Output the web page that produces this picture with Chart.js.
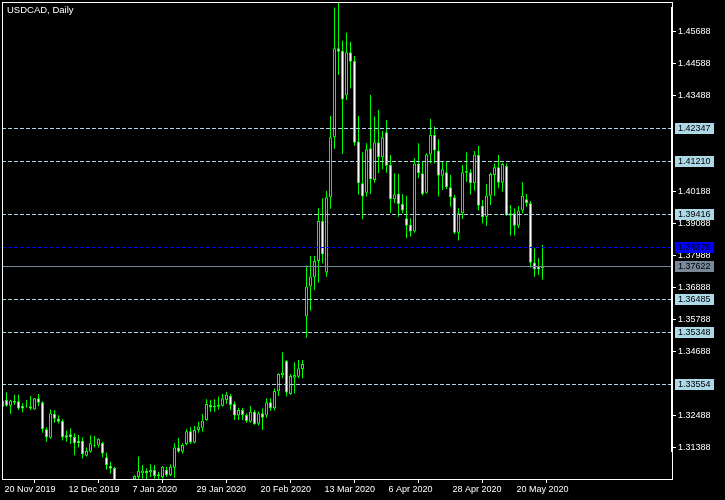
<!DOCTYPE html>
<html lang="en">
<head>
    <meta charset="UTF-8">
    <title>USDCAD, Daily</title>
    <script src="https://cdn.jsdelivr.net/npm/chart.js"></script>
    <style>
        html, body { margin: 0; padding: 0; background: #000; }
        #wrap { width: 725px; height: 500px; }
    </style>
</head>
<body>
<div id="wrap"><canvas id="candles" width="725" height="500"></canvas></div>

<script>
    // daily candles, 20 Nov 2019 .. 29 May 2020 (one entry per bar)
    const opens = [
        1.3278, 1.3301, 1.3282, 1.3298, 1.3297, 1.3281, 1.3278, 1.3280, 1.3269, 1.3307,
        1.3294, 1.3201, 1.3172, 1.3253, 1.3238, 1.3229, 1.3180, 1.3184, 1.3174, 1.3161,
        1.3161, 1.3110, 1.3124, 1.3144, 1.3145, 1.3154, 1.3105, 1.3075, 1.3068, 1.2990,
        1.2965, 1.2990, 1.2985, 1.3030, 1.3037, 1.3050, 1.3058, 1.3053, 1.3061, 1.3040,
        1.3037, 1.3061, 1.3044, 1.3069, 1.3138, 1.3124, 1.3150, 1.3194, 1.3155, 1.3198,
        1.3206, 1.3233, 1.3284, 1.3282, 1.3278, 1.3282, 1.3301, 1.3315, 1.3288, 1.3248,
        1.3267, 1.3250, 1.3227, 1.3261, 1.3220, 1.3256, 1.3248, 1.3294, 1.3273, 1.3331,
        1.3387, 1.3435, 1.3322, 1.3378, 1.3381, 1.3408, 1.3588, 1.3691, 1.3723, 1.3779,
        1.3916, 1.3739, 1.3998, 1.4204, 1.4510, 1.4501, 1.4347, 1.4496, 1.4466, 1.4189,
        1.4046, 1.4013, 1.4166, 1.4057, 1.4187, 1.4135, 1.4221, 1.4109, 1.3991, 1.4011,
        1.3975, 1.3926, 1.3903, 1.3880, 1.4114, 1.4080, 1.4013, 1.4145, 1.4212, 1.4158,
        1.4072, 1.4084, 1.4032, 1.3998, 1.3876, 1.3943, 1.4088, 1.4084, 1.4046, 1.4143,
        1.3969, 1.3931, 1.4003, 1.4074, 1.4101, 1.4048, 1.4105, 1.3943, 1.3943, 1.3900,
        1.3952, 1.3991, 1.3977, 1.3774, 1.3762, 1.3755
    ];
    const highs = [
        1.3304, 1.3327, 1.3301, 1.3319, 1.3319, 1.3290, 1.3301, 1.3315, 1.3308, 1.3322,
        1.3297, 1.3208, 1.3269, 1.3267, 1.3249, 1.3235, 1.3196, 1.3204, 1.3187, 1.3181,
        1.3173, 1.3138, 1.3180, 1.3178, 1.3170, 1.3158, 1.3120, 1.3089, 1.3072, 1.3000,
        1.2995, 1.3010, 1.3028, 1.3044, 1.3107, 1.3078, 1.3067, 1.3081, 1.3078, 1.3055,
        1.3075, 1.3072, 1.3081, 1.3153, 1.3172, 1.3153, 1.3201, 1.3208, 1.3212, 1.3227,
        1.3253, 1.3304, 1.3301, 1.3304, 1.3313, 1.3322, 1.3330, 1.3322, 1.3296, 1.3275,
        1.3274, 1.3256, 1.3281, 1.3267, 1.3262, 1.3273, 1.3307, 1.3307, 1.3341, 1.3393,
        1.3465, 1.3439, 1.3391, 1.3431, 1.3439, 1.3439, 1.3763, 1.3796, 1.3796, 1.3960,
        1.3994, 1.4019, 1.4277, 1.4650, 1.4666, 1.4535, 1.4563, 1.4532, 1.4483, 1.4277,
        1.4152, 1.4183, 1.4349, 1.4275, 1.4298, 1.4225, 1.4263, 1.4143, 1.4080, 1.4078,
        1.4008, 1.4002, 1.3926, 1.4132, 1.4183, 1.4120, 1.4149, 1.4267, 1.4240, 1.4197,
        1.4120, 1.4120, 1.4074, 1.4006, 1.3960, 1.4109, 1.4152, 1.4094, 1.4157, 1.4174,
        1.3988, 1.4043, 1.4082, 1.4114, 1.4143, 1.4116, 1.4114, 1.3971, 1.3960, 1.3968,
        1.4049, 1.4009, 1.3985, 1.3822, 1.3788, 1.3834
    ];
    const lows = [
        1.3265, 1.3278, 1.3253, 1.3284, 1.3267, 1.3259, 1.3275, 1.3267, 1.3268, 1.3281,
        1.3189, 1.3158, 1.3168, 1.3223, 1.3221, 1.3162, 1.3158, 1.3150, 1.3112, 1.3138,
        1.3100, 1.3107, 1.3120, 1.3138, 1.3138, 1.3105, 1.3063, 1.3049, 1.2980, 1.2955,
        1.2950, 1.2960, 1.2955, 1.3020, 1.3027, 1.3032, 1.3030, 1.3037, 1.3032, 1.3030,
        1.3032, 1.3037, 1.3040, 1.3034, 1.3121, 1.3118, 1.3146, 1.3150, 1.3152, 1.3189,
        1.3192, 1.3230, 1.3261, 1.3261, 1.3269, 1.3278, 1.3288, 1.3267, 1.3233, 1.3233,
        1.3233, 1.3223, 1.3223, 1.3216, 1.3214, 1.3198, 1.3240, 1.3264, 1.3265, 1.3315,
        1.3376, 1.3313, 1.3319, 1.3324, 1.3376, 1.3376, 1.3515, 1.3608, 1.3679, 1.3704,
        1.3771, 1.3725, 1.3958, 1.4164, 1.4418, 1.4146, 1.4332, 1.4372, 1.4175, 1.4006,
        1.3922, 1.4000, 1.4009, 1.4048, 1.4080, 1.4094, 1.4082, 1.3945, 1.3977, 1.3931,
        1.3943, 1.3857, 1.3862, 1.3876, 1.4063, 1.4003, 1.4011, 1.4114, 1.4114, 1.4000,
        1.4023, 1.4026, 1.3965, 1.3872, 1.3849, 1.3923, 1.4051, 1.4006, 1.4020, 1.3952,
        1.3908, 1.3899, 1.3971, 1.4002, 1.4029, 1.4017, 1.3933, 1.3866, 1.3866, 1.3891,
        1.3943, 1.3965, 1.3756, 1.3725, 1.3731, 1.3714
    ];
    const closes = [
        1.3299, 1.3282, 1.3300, 1.3292, 1.3272, 1.3272, 1.3280, 1.3272, 1.3307, 1.3292,
        1.3201, 1.3173, 1.3256, 1.3237, 1.3227, 1.3173, 1.3172, 1.3173, 1.3153, 1.3153,
        1.3115, 1.3126, 1.3153, 1.3147, 1.3168, 1.3118, 1.3078, 1.3065, 1.2990, 1.2965,
        1.2990, 1.2985, 1.3025, 1.3041, 1.3058, 1.3059, 1.3050, 1.3061, 1.3040, 1.3046,
        1.3072, 1.3044, 1.3072, 1.3138, 1.3124, 1.3147, 1.3194, 1.3155, 1.3198, 1.3210,
        1.3230, 1.3288, 1.3276, 1.3276, 1.3284, 1.3307, 1.3319, 1.3284, 1.3248, 1.3267,
        1.3250, 1.3229, 1.3261, 1.3218, 1.3256, 1.3240, 1.3294, 1.3274, 1.3332, 1.3391,
        1.3396, 1.3327, 1.3384, 1.3387, 1.3410, 1.3425, 1.3691, 1.3726, 1.3779, 1.3916,
        1.3802, 1.3998, 1.4204, 1.4510, 1.4498, 1.4334, 1.4496, 1.4463, 1.4185, 1.4046,
        1.4000, 1.4163, 1.4060, 1.4187, 1.4135, 1.4204, 1.4106, 1.3991, 1.4008, 1.3975,
        1.3952, 1.3900, 1.3880, 1.4114, 1.4080, 1.4008, 1.4145, 1.4212, 1.4158, 1.4072,
        1.4094, 1.4032, 1.3998, 1.3876, 1.3943, 1.4084, 1.4082, 1.4046, 1.4145, 1.3969,
        1.3929, 1.4003, 1.4078, 1.4101, 1.4048, 1.4112, 1.3937, 1.3934, 1.3900, 1.3952,
        1.4003, 1.3977, 1.3773, 1.3750, 1.3750, 1.37622
    ];

    // time axis labels (bar index -> text)
    const xTickIdx = [0, 16, 32, 48, 64, 80, 96, 112, 128];
    const xTickLabels = ['20 Nov 2019', '12 Dec 2019', '7 Jan 2020', '29 Jan 2020', '20 Feb 2020',
        '13 Mar 2020', '6 Apr 2020', '28 Apr 2020', '20 May 2020'];

    // price scale
    const yTicks = [1.31388, 1.32488, 1.34688, 1.35788, 1.36888, 1.37988, 1.39088, 1.40188,
        1.43488, 1.44588, 1.45688];

    // horizontal lines
    const levels = [1.42347, 1.41210, 1.39416, 1.36485, 1.35348, 1.33554];
    const blueLevel = 1.38279;
    const bidPrice = 1.37622;

    const GREEN = '#00ff00';
    const LEVEL_COL = '#add8e6';
    const BID_COL = '#778899';
    const FONT = 'Liberation Sans';

    const wicks = [], bodies = [], bodyFill = [];
    for (let i = 0; i < opens.length; i++) {
        wicks.push({x: i, y: [lows[i], highs[i]]});
        bodies.push({x: i, y: [Math.min(opens[i], closes[i]), Math.max(opens[i], closes[i])]});
        bodyFill.push(closes[i] < opens[i] ? '#ffffff' : '#000000');
    }

    const mtPlugin = {
        id: 'mt',
        afterDatasetsDraw(chart) {
            const {ctx, chartArea: a, scales: {y}} = chart;
            ctx.save();
            ctx.lineWidth = 1;
            const hline = (price, color, dash) => {
                const py = Math.round(y.getPixelForValue(price)) + 0.5;
                ctx.strokeStyle = color;
                ctx.setLineDash(dash);
                ctx.beginPath();
                ctx.moveTo(a.left, py);
                ctx.lineTo(a.right, py);
                ctx.stroke();
            };
            levels.forEach(p => hline(p, LEVEL_COL, [4, 2]));
            hline(blueLevel, '#0000ff', [4, 2]);
            hline(bidPrice, BID_COL, []);
            ctx.restore();
        },
        afterDraw(chart) {
            const {ctx, chartArea: a, scales: {y}} = chart;
            ctx.save();
            // price boxes on the right scale
            ctx.font = '9px "' + FONT + '"';
            ctx.textBaseline = 'middle';
            ctx.textAlign = 'left';
            const box = (price, bg) => {
                const py = Math.round(y.getPixelForValue(price));
                ctx.fillStyle = bg;
                ctx.fillRect(a.right + 3, py - 5, 39, 11);
                ctx.fillStyle = '#000';
                ctx.fillText(price.toFixed(5), a.right + 6, py + 0.5);
            };
            levels.forEach(p => box(p, LEVEL_COL));
            box(blueLevel, '#0000ff');
            box(bidPrice, BID_COL);

            // frame
            ctx.strokeStyle = '#fff';
            ctx.lineWidth = 1;
            ctx.strokeRect(a.left + 0.5, a.top + 0.5, a.right - a.left, a.bottom - a.top);
            ctx.beginPath();
            ctx.moveTo(a.right - 0.5, a.top + 5);
            ctx.lineTo(a.right - 0.5, 452);
            ctx.stroke();

            ctx.fillStyle = '#fff';
            ctx.textBaseline = 'top';
            ctx.font = '9.5px "' + FONT + '"';
            ctx.fillText('USDCAD, Daily', a.left + 5, a.top + 4);
            ctx.restore();
        }
    };

    const ctx = document.getElementById('candles').getContext('2d');
    Chart.defaults.font.family = FONT;
    Chart.defaults.font.size = 9;

    new Chart(ctx, {
        type: 'bar',
        data: {
            datasets: [{
                label: 'body',
                data: bodies,
                backgroundColor: bodyFill,
                borderColor: GREEN,
                borderWidth: 1,
                borderSkipped: false,
                inflateAmount: 0,
                barThickness: 3,
                grouped: false,
                order: 0
            }, {
                label: 'wick',
                data: wicks,
                backgroundColor: GREEN,
                borderWidth: 0,
                inflateAmount: 0,
                barThickness: 1,
                grouped: false,
                order: 1
            }]
        },
        plugins: [mtPlugin],
        options: {
            animation: false,
            responsive: false,
            maintainAspectRatio: false,
            events: [],
            layout: { padding: { left: 2, top: 2, right: 0, bottom: 0 } },
            plugins: { legend: { display: false }, tooltip: { enabled: false } },
            scales: {
                x: {
                    type: 'linear',
                    min: -0.125,
                    max: 167.375,
                    offset: false,
                    afterBuildTicks: s => { s.ticks = xTickIdx.map(v => ({value: v})); },
                    afterFit: s => { s.height = 21; s.paddingLeft = 0; s.paddingRight = 0; },
                    ticks: {
                        color: '#fff',
                        align: 'start',
                        labelOffset: 2,
                        padding: 1,
                        maxRotation: 0,
                        minRotation: 0,
                        autoSkip: false,
                        callback: v => xTickLabels[xTickIdx.indexOf(v)]
                    },
                    grid: { drawOnChartArea: false, color: '#fff', tickLength: 4 },
                    border: { display: false }
                },
                y: {
                    type: 'linear',
                    position: 'right',
                    min: 1.30300,
                    max: 1.46685,
                    afterBuildTicks: s => { s.ticks = yTicks.map(v => ({value: v})); },
                    afterFit: s => { s.width = 53; s.paddingTop = 0; s.paddingBottom = 0; },
                    ticks: {
                        color: '#fff',
                        padding: 2,
                        autoSkip: false,
                        callback: v => v.toFixed(5)
                    },
                    grid: { drawOnChartArea: false, color: '#fff', tickLength: 4 },
                    border: { display: false }
                }
            }
        }
    });
</script>

</body>
</html>
